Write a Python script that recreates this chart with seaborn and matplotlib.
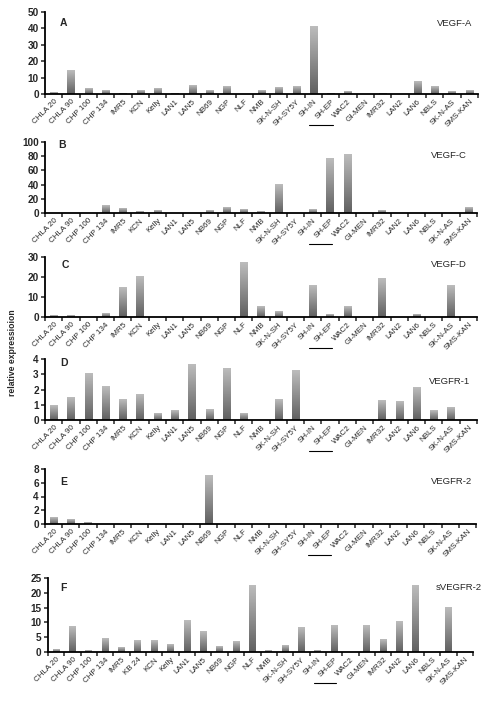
import numpy as np
import pandas as pd
import matplotlib
matplotlib.use('Agg')
import matplotlib.pyplot as plt
import matplotlib.transforms as mtransforms
from matplotlib.colors import LinearSegmentedColormap
import seaborn as sns

# cell lines (panel F has the extra KB 24 line)
lines = ['CHLA 20', 'CHLA 90', 'CHP 100', 'CHP 134', 'IMR5', 'KCN', 'Kelly', 'LAN1',
         'LAN5', 'NB69', 'NGP', 'NLF', 'NMB', 'SK-N-SH', 'SH-SY5Y', 'SH-IN', 'SH-EP',
         'WAC2', 'GI-MEN', 'IMR32', 'LAN2', 'LAN6', 'NBLS', 'SK-N-AS', 'SMS-KAN']
lines_f = ['CHLA 20', 'CHLA 90', 'CHP 100', 'CHP 134', 'IMR5', 'KB 24', 'KCN', 'Kelly',
           'LAN1', 'LAN5', 'NB69', 'NGP', 'NLF', 'NMB', 'SK-N-SH', 'SH-SY5Y', 'SH-IN',
           'SH-EP', 'WAC2', 'GI-MEN', 'IMR32', 'LAN2', 'LAN6', 'NBLS', 'SK-N-AS', 'SMS-KAN']

vegf_a = [0.7, 14.5, 3.5, 2.0, 0.5, 2.0, 3.2, 0.5, 5.0, 2.0, 4.7, 0.0, 2.0, 4.0,
          4.5, 41.2, 0.5, 1.5, 0.0, 0.3, 0.0, 7.5, 4.5, 1.5, 2.0]
vegf_c = [0.0, 0.0, 0.0, 10.5, 6.5, 2.0, 3.0, 0.0, 0.0, 3.0, 7.5, 5.0, 1.5, 39.5,
          0.0, 4.5, 76.5, 82.5, 0.0, 3.0, 0.0, 0.0, 0.0, 0.0, 8.0]
vegf_d = [0.8, 0.8, 0.0, 2.0, 15.0, 20.0, 0.0, 0.0, 0.0, 0.0, 0.0, 27.0, 5.5, 3.0,
          0.0, 16.0, 1.3, 5.5, 0.0, 19.0, 0.0, 1.5, 0.0, 16.0, 0.0]
vegfr1 = [0.95, 1.45, 3.05, 2.2, 1.36, 1.7, 0.4, 0.6, 3.63, 0.66, 3.36, 0.42, 0.0, 1.36,
          3.25, 0.0, 0.0, 0.0, 0.0, 1.28, 1.2, 2.15, 0.6, 0.84, 0.0]
vegfr2 = [1.0, 0.7, 0.15, 0.0, 0.0, 0.0, 0.0, 0.0, 0.0, 7.0, 0.0, 0.0, 0.0, 0.0,
          0.0, 0.0, 0.0, 0.0, 0.0, 0.0, 0.0, 0.0, 0.1, 0.0, 0.0]
svegfr2 = [0.8, 8.7, 0.6, 4.65, 1.6, 4.0, 4.0, 2.7, 10.6, 7.0, 1.8, 3.6, 22.3, 0.4,
           2.3, 8.3, 0.4, 9.1, 0.0, 9.1, 4.2, 10.4, 22.3, 0.0, 14.9, 0.0]

W, H = 491, 701
sns.set_theme(style='ticks')
plt.rcParams['font.family'] = ['Liberation Sans', 'DejaVu Sans']

fig = plt.figure(figsize=(W / 100, H / 100), dpi=100)
cmap = LinearSegmentedColormap.from_list('bar', ['#bcbcbc', '#606060'])
grad = np.linspace(0, 1, 64).reshape(-1, 1)

# letter, gene, labels, values, ymax, step, (left, top, right, bottom) px, letter xy, gene xy
panels = [
    ('A', 'VEGF-A', lines, vegf_a, 50, 10, (45, 11.7, 478, 94), (60, 23), (472, 23)),
    ('B', 'VEGF-C', lines, vegf_c, 100, 20, (45, 142, 477, 213), (58, 145), (467, 156)),
    ('C', 'VEGF-D', lines, vegf_d, 30, 10, (45, 257, 477, 317), (62, 265), (467, 265)),
    ('D', 'VEGFR-1', lines, vegfr1, 4, 1, (45, 359, 477, 420), (60, 363), (470, 381)),
    ('E', 'VEGFR-2', lines, vegfr2, 8, 2, (45, 469, 476, 524), (60, 482), (472, 482)),
    ('F', 'sVEGFR-2', lines_f, svegfr2, 25, 5, (48, 578, 473, 652), (60, 588), (482, 587)),
]

for letter, gene, labels, values, ymax, step, box, lxy, gxy in panels:
    l, t, r, b = box
    ax = fig.add_axes([l / W, 1 - b / H, (r - l) / W, (b - t) / H])
    df = pd.DataFrame({'line': labels, 'value': values})
    sns.barplot(data=df, x='line', y='value', order=labels, ax=ax,
                color='#888888', width=0.42, saturation=1)
    n = len(labels)
    # gradient fill like the original bars
    for p in ax.patches:
        x0, y0, w, h = p.get_x(), p.get_y(), p.get_width(), p.get_height()
        if h <= 0:
            continue
        ax.imshow(grad, cmap=cmap, extent=(x0, x0 + w, y0, y0 + h),
                  origin='upper', aspect='auto', zorder=2)
        p.set_facecolor('none')
        p.set_edgecolor('none')
    ax.set_xlim(-0.5, n - 0.5)
    ax.set_ylim(0, ymax)
    yt = np.arange(0, ymax + step / 2, step)
    ax.set_yticks(yt)
    ax.set_yticklabels([f'{v:g}' for v in yt], fontsize=7.2, fontweight='bold')
    ax.set_xticks(range(n))
    ax.set_xticklabels(labels, rotation=45, ha='right', rotation_mode='anchor',
                       fontsize=5.8)
    ax.set_xticks(np.arange(-0.5, n), minor=True)
    ax.tick_params(axis='x', which='major', length=0, pad=3)
    ax.tick_params(axis='x', which='minor', length=3, width=1.1, direction='out')
    ax.tick_params(axis='y', length=3, width=1.1, direction='out', pad=1.5)
    ax.set_xlabel('')
    ax.set_ylabel('')
    sns.despine(ax=ax)
    for s in ('left', 'bottom'):
        ax.spines[s].set_linewidth(1.3)
        ax.spines[s].set_color('black')

    # underline below the SH-EP label
    c = labels.index('SH-EP')
    trans = mtransforms.blended_transform_factory(ax.transData, ax.transAxes) + \
        mtransforms.ScaledTranslation(0, -0.31, fig.dpi_scale_trans)
    ax.plot([c - 1.25, c + 0.1], [0, 0], transform=trans, color='black',
            lw=0.8, clip_on=False)

    fig.text(lxy[0] / W, 1 - lxy[1] / H, letter, fontsize=7.5, fontweight='bold',
             ha='left', va='center')
    fig.text(gxy[0] / W, 1 - gxy[1] / H, gene, fontsize=6.8, ha='right', va='center')

fig.text(13 / W, 1 - 353 / H, 'relative expressioion', rotation=90, fontsize=6.2,
         fontweight='bold', ha='center', va='center')

fig.savefig('out.png', dpi=100)
